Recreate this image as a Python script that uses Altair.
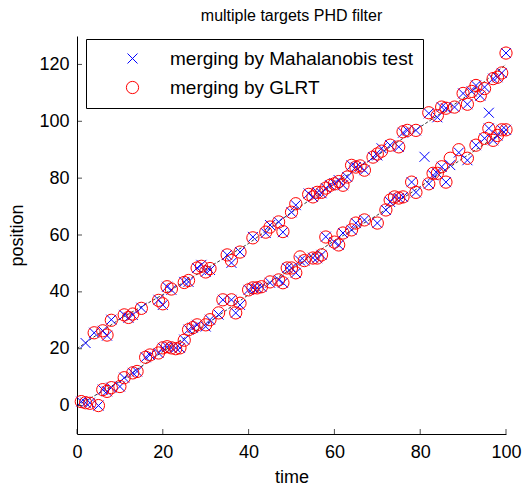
import altair as alt
import pandas as pd

MAHA = "merging by Mahalanobis test"
GLRT = "merging by GLRT"

# target 1 (upper track) estimates
up_t = [2, 4, 6, 7, 8, 11, 12, 13, 15, 19, 20, 21, 22, 25, 26, 28, 29, 30, 31, 35,
        36, 38, 41, 44, 45, 47, 48, 50, 51, 54, 55, 56, 57, 58, 59, 60, 61, 62, 63, 64,
        65, 66, 67, 69, 70, 71, 73, 75, 76, 77, 79, 82, 84, 85, 86, 88, 90, 91, 92, 93,
        94, 95, 97, 98, 99, 100]
up_maha = [22.0, 25.6, 26.3, 24.6, 30.2, 31.9, 30.9, 31.9, 34.4, 37.2, 35.4, 41.8, 40.7, 43.5, 43.5, 48.4, 49.5, 47.0, 47.7, 53.0,
           50.2, 54.0, 59.3, 60.7, 63.5, 64.6, 61.0, 68.0, 70.5, 74.6, 73.4, 75.0, 74.7, 76.5, 77.5, 78.2, 79.3, 77.5, 80.4, 84.5,
           83.9, 84.0, 82.8, 87.4, 88.0, 90.5, 91.6, 91.0, 96.0, 96.8, 96.8, 102.8, 101.4, 105.0, 104.6, 105.0, 109.8, 106.0, 110.5, 112.6,
           109.0, 112.0, 115.0, 115.5, 117.0, 124.0]
up_glrt = [None, 25.6, 26.3, 24.8, 30.0, 31.9, 31.0, 32.2, 34.2, 37.0, 35.8, 41.8, 41.0, 43.3, 44.0, 48.4, 49.0, 47.0, 48.2, 53.0,
           51.0, 54.0, 59.0, 61.0, 62.8, 64.6, 61.2, 68.0, 71.0, 74.3, 73.4, 75.0, 75.0, 76.5, 77.5, 78.0, 78.8, 77.5, 80.4, 84.5,
           83.9, 84.3, 82.8, 87.4, 88.5, 89.5, 91.6, 91.0, 96.3, 96.8, 96.8, 103.0, 102.0, 105.0, 104.6, 105.0, 109.8, 106.0, 110.5, 112.6,
           109.0, 111.5, 115.0, 115.5, 117.0, 124.0]

# target 2 (lower track) estimates
lo_t = [1, 2, 3, 5, 6, 7, 8, 10, 11, 13, 14, 16, 17, 19, 20, 21, 22, 23, 24, 25,
        26, 27, 28, 30, 31, 33, 34, 36, 37, 38, 40, 41, 42, 43, 45, 47, 48, 49, 50, 51,
        52, 53, 55, 56, 57, 58, 60, 61, 62, 64, 65, 67, 70, 72, 73, 74, 75, 76, 78, 79,
        82, 83, 84, 85, 86, 87, 89, 91, 93, 95, 96, 97, 98, 99, 100]
lo_maha = [1.4, 1.0, 1.0, 0.0, 5.6, 5.0, 6.3, 6.7, 9.8, 11.5, 12.0, 17.0, 17.8, 18.5, 20.3, 20.7, 20.3, 20.3, 20.3, 23.2,
           26.7, 27.4, 28.4, 27.8, 30.2, 32.0, 37.2, 37.2, 32.6, 35.4, 40.7, 41.4, 41.4, 41.8, 43.2, 44.2, 43.2, 48.4, 48.4, 46.7,
           51.0, 51.0, 52.0, 51.9, 53.0, 59.4, 57.5, 56.5, 60.7, 61.8, 64.2, 65.3, 64.2, 68.8, 71.6, 73.4, 73.0, 73.4, 78.6, 75.0,
           78.0, 81.0, 81.7, 84.0, 78.6, 84.6, 89.0, 86.3, 91.6, 94.0, 97.5, 93.3, 95.0, 97.0, 97.0]
lo_glrt = [1.4, 1.0, 0.8, 0.0, 5.6, 5.0, 6.3, 6.7, 9.8, 11.5, 12.0, 17.0, 17.8, 18.5, 20.3, 20.7, 20.3, 20.0, 20.3, 23.0,
           26.7, 27.4, 28.4, 28.4, 30.2, 32.6, 37.2, 37.2, 32.6, 36.0, 40.7, 41.4, 41.4, 41.8, 43.5, 44.2, 43.2, 48.4, 48.4, 46.7,
           52.3, 51.0, 51.9, 51.9, 53.0, 59.3, 57.5, 56.5, 60.7, 61.8, 64.2, 65.3, 64.2, 68.8, 72.3, 73.4, 73.0, 73.4, 78.6, 75.0,
           78.0, 81.7, 81.7, 84.0, 78.6, 87.0, 90.0, 87.0, 91.6, 94.0, 97.5, 93.3, 95.0, 97.0, 97.0]

# extra (spurious) Mahalanobis-only estimates
extra_t = [81, 96]
extra_maha = [87.5, 103.0]

# true trajectories (dashed)
true_t = [0, 10, 20, 30, 40, 50, 60, 70, 80, 90, 100]
true_up = [20.0, 30.5, 39.0, 48.0, 57.0, 68.0, 78.0, 88.0, 98.0, 108.0, 120.0]
true_lo = [0.0, 8.5, 19.0, 28.5, 39.0, 48.0, 58.0, 67.0, 77.0, 87.0, 97.0]

x_ticks = [0, 20, 40, 60, 80, 100]
y_ticks = [0, 20, 40, 60, 80, 100, 120]

rows = []
for ts, vs in [(up_t, up_maha), (lo_t, lo_maha), (extra_t, extra_maha)]:
    for t, v in zip(ts, vs):
        if v is not None:
            rows.append({"time": t, "position": v, "method": MAHA})
for ts, vs in [(up_t, up_glrt), (lo_t, lo_glrt)]:
    for t, v in zip(ts, vs):
        if v is not None:
            rows.append({"time": t, "position": v, "method": GLRT})
pts = pd.DataFrame(rows)

true_rows = []
for t, v in zip(true_t, true_up):
    true_rows.append({"time": t, "position": v, "track": "1"})
for t, v in zip(true_t, true_lo):
    true_rows.append({"time": t, "position": v, "track": "2"})
truth = pd.DataFrame(true_rows)

FONT = "Liberation Sans"
xscale = alt.Scale(domain=[0, 100], nice=False, zero=False)
yscale = alt.Scale(domain=[-10, 130], nice=False, zero=False)

axis_style = dict(grid=False, ticks=False, labelFont=FONT, titleFont=FONT,
                  labelFontSize=18, titleFontSize=18, labelColor="black",
                  titleColor="black", titleFontWeight="normal",
                  domainColor="black", domainWidth=1, labelFlush=False)
x_axis = alt.Axis(values=x_ticks, title="time", labelPadding=9, titlePadding=7, **axis_style)
y_axis = alt.Axis(values=y_ticks, title="position", labelPadding=8, titlePadding=12, **axis_style)

lines = alt.Chart(truth).mark_line(color="black", strokeWidth=0.8, strokeDash=[3, 2]).encode(
    x=alt.X("time:Q", scale=xscale, axis=x_axis),
    y=alt.Y("position:Q", scale=yscale, axis=y_axis),
    detail="track:N",
)

XPATH = "M-1,-1L1,1M-1,1L1,-1"
dom = [MAHA, GLRT]
points = alt.Chart(pts).mark_point(filled=False, strokeWidth=1, opacity=1).encode(
    x=alt.X("time:Q", scale=xscale),
    y=alt.Y("position:Q", scale=yscale),
    color=alt.Color("method:N", scale=alt.Scale(domain=dom, range=["#0000ff", "#ff0000"]),
                    legend=alt.Legend(title=None, orient="none", legendX=9, legendY=3,
                                      padding=10, strokeColor="black", fillColor="white",
                                      labelFontSize=19, labelFont=FONT, labelColor="black",
                                      symbolOffset=27, labelOffset=28, rowPadding=9,
                                      symbolStrokeWidth=1, labelLimit=400)),
    shape=alt.Shape("method:N", scale=alt.Scale(domain=dom, range=[XPATH, "circle"])),
    size=alt.Size("method:N", scale=alt.Scale(domain=dom, range=[100, 150])),
    order=alt.Order("ord:Q"),
).transform_calculate(ord="datum.method == '%s' ? 0 : 1" % MAHA)

xt = alt.Chart(pd.DataFrame({"time": x_ticks})).mark_tick(
    orient="vertical", size=5, thickness=1, color="black").encode(
    x=alt.X("time:Q", scale=xscale), y=alt.value(395.5))
yt = alt.Chart(pd.DataFrame({"position": y_ticks})).mark_tick(
    orient="horizontal", size=5, thickness=1, color="black").encode(
    y=alt.Y("position:Q", scale=yscale), x=alt.value(2.5))

chart = alt.layer(lines, points, xt, yt).properties(
    width=429, height=398,
    background="white",
    autosize=alt.AutoSizeParams(type="none"),
    padding={"left": 77, "top": 36, "right": 21, "bottom": 53},
    title=alt.TitleParams("multiple targets PHD filter", fontSize=16, font=FONT,
                          fontWeight="normal", color="black", offset=12),
).configure_view(stroke=None)

chart.save("out.html", embed_options={"renderer": "svg", "actions": False})
